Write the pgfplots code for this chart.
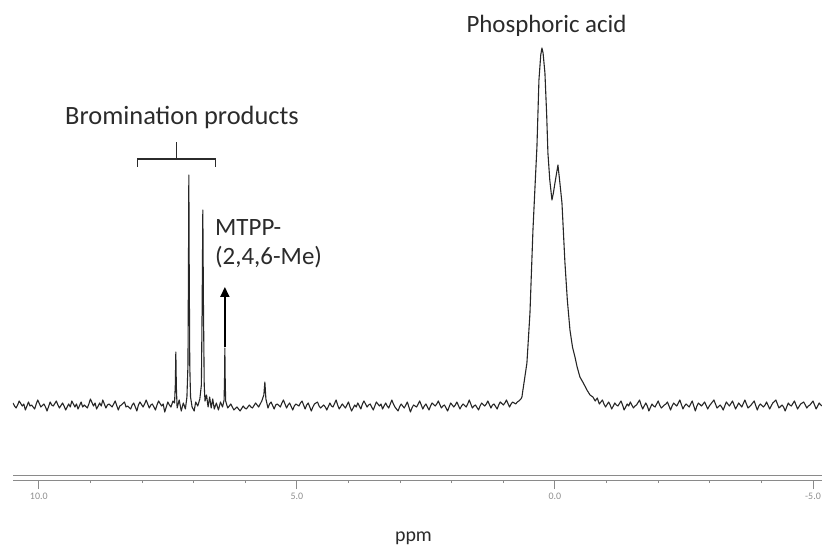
\documentclass[border=0pt]{standalone}
\usepackage{pgfplots}
\pgfplotsset{compat=1.18}
\usepackage{fontspec}
\setmainfont{Carlito}
\usetikzlibrary{arrows.meta}
\definecolor{txt}{HTML}{2B2B2B}
\definecolor{axgray}{HTML}{8A8A8A}
\definecolor{ticklab}{HTML}{8F8F8F}
\begin{document}
\begin{tikzpicture}
\begin{axis}[
  scale only axis,
  width=809bp, height=478bp,
  x dir=reverse,
  xmin=-5.174, xmax=10.5,
  ymin=-73, ymax=405,
  axis x line*=bottom,
  axis y line=none,
  x axis line style={axgray, double=white, double distance=4.5bp, line width=1.1bp},
  xtick={10,5,0,-5},
  xticklabels={10.0,5.0,0.0,-5.0},
  minor x tick num=4,
  tick align=outside,
  major tick length=11bp,
  minor tick length=5bp,
  every tick/.style={axgray, line width=1bp},
  xticklabel style={font=\fontsize{10}{10}\selectfont, text=ticklab, yshift=-1bp},
  xlabel={ppm},
  xlabel style={at={(axis description cs:0.5,0)}, anchor=base, yshift=-63bp, xshift=-4bp, font=\fontsize{20}{20}\selectfont, text=txt},
]
\addplot[black!85, line width=1.1bp, line join=round] coordinates {
(10.50,2) (10.47,-1) (10.44,-3) (10.41,0) (10.38,4) (10.32,-1) (10.29,1) (10.26,-5) (10.20,3) (10.17,-1) (10.14,0) (10.08,-4) (10.05,1) (10.02,5) (9.96,-2)
(9.90,1) (9.87,-2) (9.84,-6) (9.78,3) (9.75,0) (9.72,-1) (9.66,4) (9.63,0) (9.60,-3) (9.54,2) (9.51,-1) (9.48,-5) (9.42,1) (9.39,-2) (9.36,4)
(9.30,-2) (9.27,1) (9.24,-4) (9.18,3) (9.15,-2) (9.12,0) (9.06,-3) (9.03,1) (9.00,6) (8.94,-1) (8.91,2) (8.88,-4) (8.82,2) (8.79,-1) (8.76,5)
(8.70,-3) (8.67,0) (8.64,1) (8.58,-2) (8.55,1) (8.52,4) (8.46,-5) (8.43,-1) (8.40,0) (8.34,3) (8.31,-2) (8.28,-1) (8.22,-4) (8.19,0) (8.16,2)
(8.10,-6) (8.07,0) (8.04,3) (7.98,-2) (7.95,1) (7.92,5) (7.86,-3) (7.83,0) (7.80,1) (7.74,-5) (7.71,0) (7.68,4) (7.62,-1) (7.59,1) (7.56,-7)
(7.50,3) (7.47,0) (7.44,-2) (7.40,4)
(7.37,2) (7.355,20) (7.345,53) (7.335,18) (7.32,-3) (7.28,5) (7.24,-6) (7.20,2) (7.16,-4)
(7.13,8) (7.11,40) (7.10,140) (7.093,230) (7.086,140) (7.075,40) (7.06,8) (7.03,-2) (6.99,-6)
(6.96,3) (6.92,-1) (6.88,6) (6.85,20) (6.835,100) (6.822,195) (6.81,100) (6.795,20) (6.78,4)
(6.75,10) (6.72,-2) (6.69,8) (6.66,-3) (6.63,6) (6.60,-4) (6.56,2) (6.52,-5) (6.48,3) (6.44,-2)
(6.41,5) (6.40,30) (6.395,57) (6.39,30) (6.38,4)
(6.34,-3) (6.28,1) (6.25,-2) (6.22,-5) (6.16,-2) (6.13,-4) (6.10,-6) (6.04,-1) (6.01,-3) (5.98,-4) (5.92,0) (5.89,-2) (5.86,-3) (5.80,2) (5.77,0)
(5.74,-2) (5.68,4) (5.64,10) (5.62,23) (5.60,6) (5.56,-3) (5.53,1) (5.50,3) (5.44,-4) (5.41,0) (5.38,1) (5.32,-2) (5.29,2)
(5.26,5) (5.20,-3) (5.17,0) (5.14,2) (5.08,-5) (5.05,-1) (5.02,1) (4.96,-1) (4.93,2) (4.90,4) (4.84,-4) (4.81,0) (4.78,2) (4.72,-6) (4.69,-2)
(4.66,1) (4.60,3) (4.57,-1) (4.54,-3) (4.48,0) (4.45,-2) (4.42,-5) (4.36,2) (4.33,-1) (4.30,-2) (4.24,5) (4.21,0) (4.18,-4) (4.12,1) (4.09,-1)
(4.06,-3) (4.00,3) (3.97,-2) (3.94,-6) (3.88,0) (3.85,-2) (3.82,2) (3.76,-4) (3.73,1) (3.70,4) (3.64,-2) (3.61,0) (3.58,1) (3.52,-5) (3.49,-1)
(3.46,3) (3.40,-1) (3.37,1) (3.34,-4) (3.28,2) (3.25,-1) (3.22,-3) (3.16,5) (3.13,1) (3.10,-2) (3.04,-6) (3.01,-2) (2.98,1) (2.92,-3) (2.89,0)
(2.86,3) (2.80,-7) (2.77,-3) (2.74,0) (2.68,-2) (2.65,1) (2.62,4) (2.56,-4) (2.53,-1) (2.50,1) (2.44,-5) (2.41,-1) (2.38,2) (2.32,-1) (2.29,1)
(2.26,4) (2.20,-3) (2.17,-1) (2.14,0) (2.08,-6) (2.05,-2) (2.02,2) (1.96,-2) (1.93,0) (1.90,3) (1.84,-4) (1.81,-1) (1.78,1) (1.72,-2) (1.69,1)
(1.66,5) (1.60,-3) (1.57,-1) (1.54,0) (1.48,-5) (1.45,-1) (1.42,2) (1.36,-1) (1.33,1) (1.30,4) (1.24,-3) (1.21,0) (1.18,1) (1.12,-4) (1.09,0)
(1.06,3) (1.00,0) (0.97,2) (0.94,5) (0.88,-2) (0.85,1) (0.82,3) (0.76,1) (0.73,3) (0.70,4) (0.66,6)
(0.640,8) (0.600,22) (0.543,42) (0.484,92) (0.426,175) (0.380,225) (0.349,258) (0.310,325)
(0.275,350) (0.252,357) (0.230,352) (0.194,332) (0.160,290) (0.136,252) (0.100,225) (0.058,205)
(0.030,212) (0.000,222) (-0.058,240) (-0.090,225) (-0.136,202) (-0.194,142) (-0.240,105)
(-0.291,75) (-0.340,58) (-0.388,48) (-0.430,38) (-0.484,28) (-0.550,22) (-0.620,15) (-0.680,10)
(-0.736,8) (-0.78,4) (-0.82,7) (-0.86,1)
(-0.92,5) (-0.95,1) (-0.98,-2) (-1.04,3) (-1.07,0) (-1.10,-4) (-1.16,2) (-1.19,0) (-1.22,-1) (-1.28,4) (-1.31,0) (-1.34,-5) (-1.40,1) (-1.43,-1) (-1.46,3)
(-1.52,-3) (-1.55,-1) (-1.58,0) (-1.64,5) (-1.67,0) (-1.70,-4) (-1.76,2) (-1.79,-1) (-1.82,-6) (-1.88,1) (-1.91,-1) (-1.94,-2) (-2.00,4) (-2.03,0) (-2.06,-3)
(-2.12,0) (-2.15,1) (-2.18,3) (-2.24,-5) (-2.27,-1) (-2.30,2) (-2.36,-1) (-2.39,2) (-2.42,5) (-2.48,-4) (-2.51,-1) (-2.54,1) (-2.60,-2) (-2.63,1) (-2.66,4)
(-2.72,-6) (-2.75,-1) (-2.78,2) (-2.84,-1) (-2.87,1) (-2.90,3) (-2.96,-4) (-2.99,-1) (-3.02,1) (-3.08,5) (-3.11,1) (-3.14,-3) (-3.20,0) (-3.23,-2) (-3.26,-5)
(-3.32,3) (-3.35,1) (-3.38,-1) (-3.44,4) (-3.47,0) (-3.50,-4) (-3.56,2) (-3.59,0) (-3.62,-2) (-3.68,5) (-3.71,1) (-3.74,-3) (-3.80,0) (-3.83,2) (-3.86,4)
(-3.92,-5) (-3.95,-1) (-3.98,1) (-4.04,-2) (-4.07,0) (-4.10,3) (-4.16,-4) (-4.19,-1) (-4.22,2) (-4.28,5) (-4.31,1) (-4.34,-3) (-4.40,0) (-4.43,-2) (-4.46,-6)
(-4.52,2) (-4.55,0) (-4.58,-1) (-4.64,4) (-4.67,0) (-4.70,-4) (-4.76,1) (-4.79,2) (-4.82,3) (-4.88,-3) (-4.91,-1) (-4.94,0) (-5.00,4) (-5.03,0) (-5.06,-4)
(-5.12,2) (-5.15,0) (-5.18,-1)
};
% bracket
\draw[txt, line width=1.3bp] (axis cs:8.081,238) -- (axis cs:8.081,246) -- (axis cs:6.570,246) -- (axis cs:6.570,238);
\draw[txt, line width=1.3bp] (axis cs:7.326,246) -- (axis cs:7.326,263);
% arrow
\draw[black, line width=2bp, -{Triangle[width=9bp,length=10bp]}] (axis cs:6.395,58) -- (axis cs:6.395,118);
\end{axis}
\node[anchor=base, text=txt, font=\fontsize{25}{30}\selectfont] at (533.5bp,445bp) {Phosphoric acid};
\node[anchor=base west, text=txt, font=\fontsize{26.5}{30}\selectfont, inner sep=0pt] at (52bp,353bp) {Bromination products};
\node[anchor=base west, text=txt, font=\fontsize{25}{30}\selectfont, inner sep=0pt] at (202bp,242bp) {MTPP-};
\node[anchor=base west, text=txt, font=\fontsize{25}{30}\selectfont, inner sep=0pt] at (202bp,213bp) {(2,4,6-Me)};
\pgfresetboundingbox
\path[use as bounding box] (-13bp,-70bp) rectangle (809bp,478bp);
\end{tikzpicture}
\end{document}
